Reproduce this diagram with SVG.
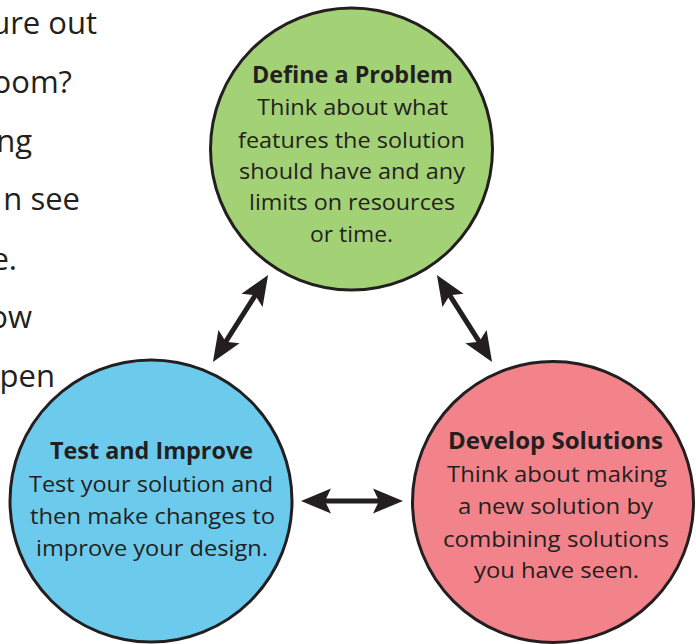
<svg xmlns="http://www.w3.org/2000/svg" width="696" height="644" viewBox="0 0 696 644">
<style>
.bg{font-family:"Open Sans","Noto Sans",sans-serif;font-size:31px;fill:#231f20;text-anchor:end}
.t{font-family:"Open Sans","Noto Sans",sans-serif;font-size:22.5px;fill:#231f20;text-anchor:middle}
.h{font-weight:bold}
.c{stroke:#231f20;stroke-width:3}
.ar{stroke:#231f20;stroke-width:5;fill:none}
</style>
<defs>
<marker id="ah" markerUnits="userSpaceOnUse" viewBox="0 -13 30 26" markerWidth="30" markerHeight="26" refX="8" refY="0" orient="auto-start-reverse">
<path d="M0,-12.5 L30,0 L0,12.5 L6,0 Z" fill="#231f20"/>
</marker>
</defs>
<rect width="696" height="644" fill="#ffffff"/>
<g id="page-text">
<text class="bg" x="97" y="34">ure out</text>
<text class="bg" x="72" y="93">oom?</text>
<text class="bg" x="32" y="152">ng</text>
<text class="bg" x="80" y="210">n see</text>
<text class="bg" x="17" y="270">e.</text>
<text class="bg" x="32" y="328">ow</text>
<text class="bg" x="55" y="387">pen</text>
</g>
<g id="connectors">
<line class="ar" x1="224.7" y1="343.4" x2="256.3" y2="293.6" marker-start="url(#ah)" marker-end="url(#ah)"/>
<line class="ar" x1="448.7" y1="293.6" x2="480.3" y2="343.4" marker-start="url(#ah)" marker-end="url(#ah)"/>
<line class="ar" x1="323" y1="501" x2="381" y2="501" marker-start="url(#ah)" marker-end="url(#ah)"/>
</g>
<g id="define">
<circle class="c" cx="351.5" cy="149" r="141" fill="#a3d176"/>
<text class="t h" x="352.5" y="83" textLength="201" lengthAdjust="spacingAndGlyphs">Define a Problem</text>
<text class="t" x="352.5" y="115" textLength="191" lengthAdjust="spacingAndGlyphs">Think about what</text>
<text class="t" x="351.5" y="148" textLength="227" lengthAdjust="spacingAndGlyphs">features the solution</text>
<text class="t" x="352" y="179" textLength="226" lengthAdjust="spacingAndGlyphs">should have and any</text>
<text class="t" x="352" y="210" textLength="206" lengthAdjust="spacingAndGlyphs">limits on resources</text>
<text class="t" x="351.5" y="242" textLength="83" lengthAdjust="spacingAndGlyphs">or time.</text>
</g>
<g id="test">
<circle class="c" cx="151" cy="501" r="141" fill="#6ccbec"/>
<text class="t h" x="151.5" y="459" textLength="203" lengthAdjust="spacingAndGlyphs">Test and Improve</text>
<text class="t" x="151" y="492" textLength="244" lengthAdjust="spacingAndGlyphs">Test your solution and</text>
<text class="t" x="152.5" y="524" textLength="245" lengthAdjust="spacingAndGlyphs">then make changes to</text>
<text class="t" x="152" y="556" textLength="232" lengthAdjust="spacingAndGlyphs">improve your design.</text>
</g>
<g id="develop">
<circle class="c" cx="553" cy="502" r="140.5" fill="#f2838b"/>
<text class="t h" x="555.5" y="449" textLength="215" lengthAdjust="spacingAndGlyphs">Develop Solutions</text>
<text class="t" x="557" y="482" textLength="220" lengthAdjust="spacingAndGlyphs">Think about making</text>
<text class="t" x="555.5" y="514" textLength="195" lengthAdjust="spacingAndGlyphs">a new solution by</text>
<text class="t" x="556" y="547" textLength="226" lengthAdjust="spacingAndGlyphs">combining solutions</text>
<text class="t" x="556.5" y="578" textLength="165" lengthAdjust="spacingAndGlyphs">you have seen.</text>
</g>
</svg>
